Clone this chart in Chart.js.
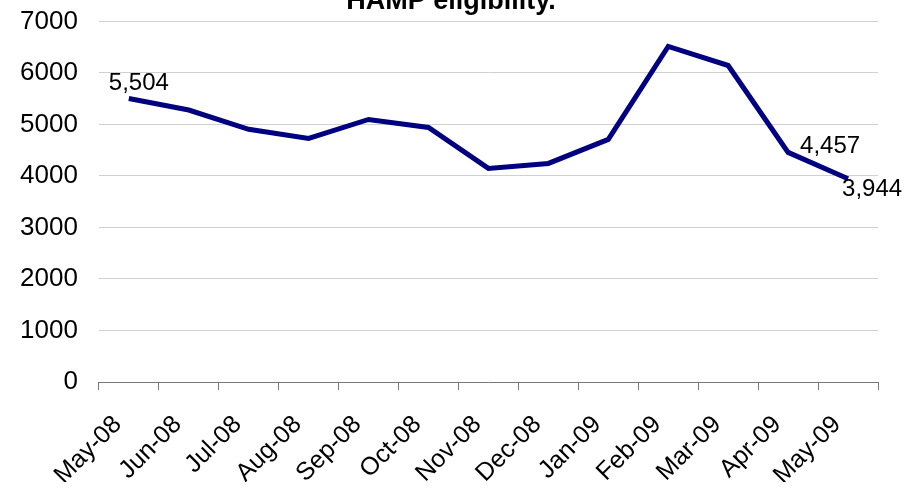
<!DOCTYPE html>
<html>
<head>
<meta charset="utf-8">
<script src="https://cdn.jsdelivr.net/npm/chart.js@4.4.1/dist/chart.umd.min.js"></script>
<style>
  body { margin: 0; background: #fff; }
  canvas { display: block; }
</style>
</head>
<body>
<canvas id="my_line_chart" width="921" height="492"></canvas>
<script>
// data
const months = ["May-08", "Jun-08", "Jul-08", "Aug-08", "Sep-08", "Oct-08", "Nov-08",
  "Dec-08", "Jan-09", "Feb-09", "Mar-09", "Apr-09", "May-09"];
const counts = [5504, 5280, 4905, 4728, 5097, 4942, 4146, 4243, 4710, 6514, 6144, 4457, 3944];
const labelledPoints = [0, 11, 12];
const yTicks = [0, 1000, 2000, 3000, 4000, 5000, 6000, 7000];

// where each value label sits relative to its point
const labelOffsets = {
  0: { dx: 10, dy: -8, align: "center", base: "alphabetic" },
  11: { dx: 12, dy: -6, align: "left", base: "middle" },
  12: { dx: -6, dy: -1, align: "left", base: "top" },
};

const valueLabels = {
  id: "valueLabels",
  afterLayout(chart) {
    // title sits a bit right of the plot centre in the original
    if (chart.titleBlock) {
      chart.titleBlock.right = chart.width - 18;
      chart.titleBlock.width = chart.titleBlock.right - chart.titleBlock.left;
    }
  },
  afterDatasetsDraw(chart) {
    const ctx = chart.ctx;
    const meta = chart.getDatasetMeta(0);
    ctx.save();
    ctx.font = "24px 'Liberation Sans', Arial, sans-serif";
    ctx.fillStyle = "#000";
    for (const i of labelledPoints) {
      const pt = meta.data[i];
      const o = labelOffsets[i];
      ctx.textAlign = o.align;
      ctx.textBaseline = o.base;
      ctx.fillText(counts[i].toLocaleString("en-US"), pt.x + o.dx, pt.y + o.dy);
    }
    ctx.restore();
  },
};

const line_chart = document.getElementById("my_line_chart");
new Chart(line_chart, {
  type: "line",
  data: {
    labels: months,
    datasets: [
      {
        data: counts,
        fill: false,
        borderColor: "#000080",
        borderWidth: 5,
        tension: 0,
        pointRadius: 0,
      },
    ],
  },
  options: {
    responsive: false,
    animation: false,
    layout: { padding: { left: -1, right: 43, top: 0, bottom: 10 } },
    plugins: {
      legend: { display: false },
      tooltip: { enabled: false },
      title: {
        display: true,
        text: "HAMP eligibility.",
        color: "#000",
        font: { family: "'Liberation Sans', Arial, sans-serif", size: 27, weight: "bold" },
        padding: { top: -15, bottom: 4 },
      },
    },
    scales: {
      x: {
        offset: true,
        afterFit(scale) {
          // keep the rotated labels from pushing the plot inwards
          scale.paddingLeft = 0;
          scale.paddingRight = 0;
          scale.height = 100;
        },
        grid: {
          offset: true,
          drawOnChartArea: false,
          drawTicks: true,
          tickLength: 8,
          color: "#777",
        },
        border: { display: true, color: "#777", width: 1 },
        ticks: {
          minRotation: 45,
          maxRotation: 45,
          color: "#000",
          padding: 20,
          labelOffset: -11,
          font: { family: "'Liberation Sans', Arial, sans-serif", size: 25 },
        },
      },
      y: {
        min: 0,
        max: 7000,
        afterBuildTicks(axis) {
          axis.ticks = yTicks.map((v) => ({ value: v }));
        },
        afterFit(scale) {
          scale.paddingTop = 0;
          scale.paddingBottom = 0;
        },
        grid: { color: "#d0d0d0", drawTicks: false },
        border: { display: false },
        ticks: {
          color: "#000",
          padding: 21,
          font: { family: "'Liberation Sans', Arial, sans-serif", size: 26 },
          callback: (v) => String(v),
        },
      },
    },
  },
  plugins: [valueLabels],
});
</script>
</body>
</html>
